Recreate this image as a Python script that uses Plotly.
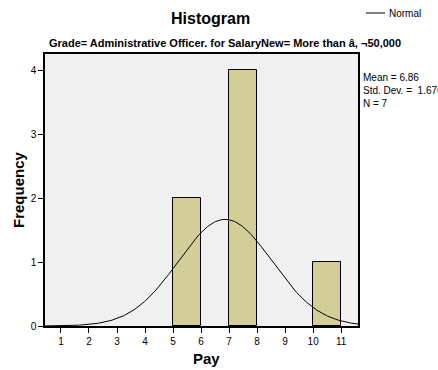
import numpy as np
import plotly.graph_objects as go

# Histogram bins (lower edges, width 1) and their frequencies
bin_left = [5, 7, 10]
bin_count = [2, 4, 1]
bin_width = 1

# Summary statistics
mean_pay = 6.86
sd_pay = 1.676
n_obs = 7

x_ticks = [1, 2, 3, 4, 5, 6, 7, 8, 9, 10, 11]
y_ticks = [0, 1, 2, 3, 4]

FONT = "Arial, Liberation Sans, sans-serif"

# Plot area in pixels
L, R, T, B = 45, 358, 54, 326
PW, PH = R - L, B - T


def px_x(px):
    return (px - L) / PW


def px_y(py):
    return (B - py) / PH


# Normal curve scaled to the histogram (N * bin width * pdf)
xs = np.linspace(0.43, 11.6, 300)
ys = n_obs * bin_width * np.exp(-0.5 * ((xs - mean_pay) / sd_pay) ** 2) / (sd_pay * np.sqrt(2 * np.pi))

fig = go.Figure()
fig.add_trace(go.Bar(
    x=[b + bin_width / 2 for b in bin_left],
    y=bin_count,
    width=bin_width,
    marker=dict(color="#d3ce98", line=dict(color="#000000", width=1)),
    showlegend=False,
    hoverinfo="skip",
))
fig.add_trace(go.Scatter(
    x=xs, y=ys, mode="lines",
    line=dict(color="#000000", width=1),
    name="Normal", showlegend=False,
))

fig.update_layout(
    width=438, height=370,
    margin=dict(l=L, r=438 - R, t=T, b=370 - B, autoexpand=False),
    paper_bgcolor="#ffffff",
    plot_bgcolor="#f0f0f0",
    font=dict(family=FONT, color="#000000"),
    bargap=0,
    showlegend=False,
)

fig.update_xaxes(
    range=[0.43, 11.6],
    tickvals=x_ticks,
    ticks="outside", ticklen=5, tickcolor="#000000", tickwidth=1,
    tickfont=dict(size=10, family=FONT),
    showgrid=False, zeroline=False, automargin=False,
    showline=True, linecolor="#000000", linewidth=1.5, mirror=True,
)
fig.update_yaxes(
    range=[0, 4.25],
    tickvals=y_ticks,
    ticks="outside", ticklen=5, tickcolor="#000000", tickwidth=1,
    tickfont=dict(size=10, family=FONT),
    showgrid=False, zeroline=False, automargin=False,
    showline=True, linecolor="#000000", linewidth=1.5, mirror=True,
)

# Axis titles
fig.add_annotation(text="<b>Pay</b>", xref="paper", yref="paper",
                   x=px_x(206), y=px_y(358), xanchor="center", yanchor="middle",
                   showarrow=False, font=dict(size=15, family=FONT))
fig.add_annotation(text="<b>Frequency</b>", xref="paper", yref="paper",
                   x=px_x(18), y=px_y(190), xanchor="center", yanchor="middle",
                   textangle=-90, showarrow=False, font=dict(size=15, family=FONT))

# Titles
fig.add_annotation(text="<b>Histogram</b>", xref="paper", yref="paper",
                   x=px_x(210), y=px_y(18), xanchor="center", yanchor="middle",
                   showarrow=False, font=dict(size=16, family=FONT))
fig.add_annotation(text="<b>Grade= Administrative Officer. for SalaryNew= More than â, ¬50,000</b>",
                   xref="paper", yref="paper",
                   x=px_x(225), y=px_y(43), xanchor="center", yanchor="middle",
                   showarrow=False, font=dict(size=11, family=FONT))

# Legend entry for the normal curve
fig.add_shape(type="line", xref="paper", yref="paper",
              x0=px_x(366), x1=px_x(385), y0=px_y(13), y1=px_y(13),
              line=dict(color="#000000", width=1))
fig.add_annotation(text="Normal", xref="paper", yref="paper",
                   x=px_x(387), y=px_y(13), xanchor="left", yanchor="middle",
                   showarrow=False, font=dict(size=10, family=FONT))

# Statistics box
fig.add_annotation(text=f"Mean = {mean_pay:.2f}<br>Std. Dev. =  {sd_pay:.3f}<br>N = {n_obs}",
                   xref="paper", yref="paper",
                   x=px_x(361), y=px_y(70), xanchor="left", yanchor="top",
                   align="left", showarrow=False, font=dict(size=10, family=FONT))

fig.write_html("out.html")
